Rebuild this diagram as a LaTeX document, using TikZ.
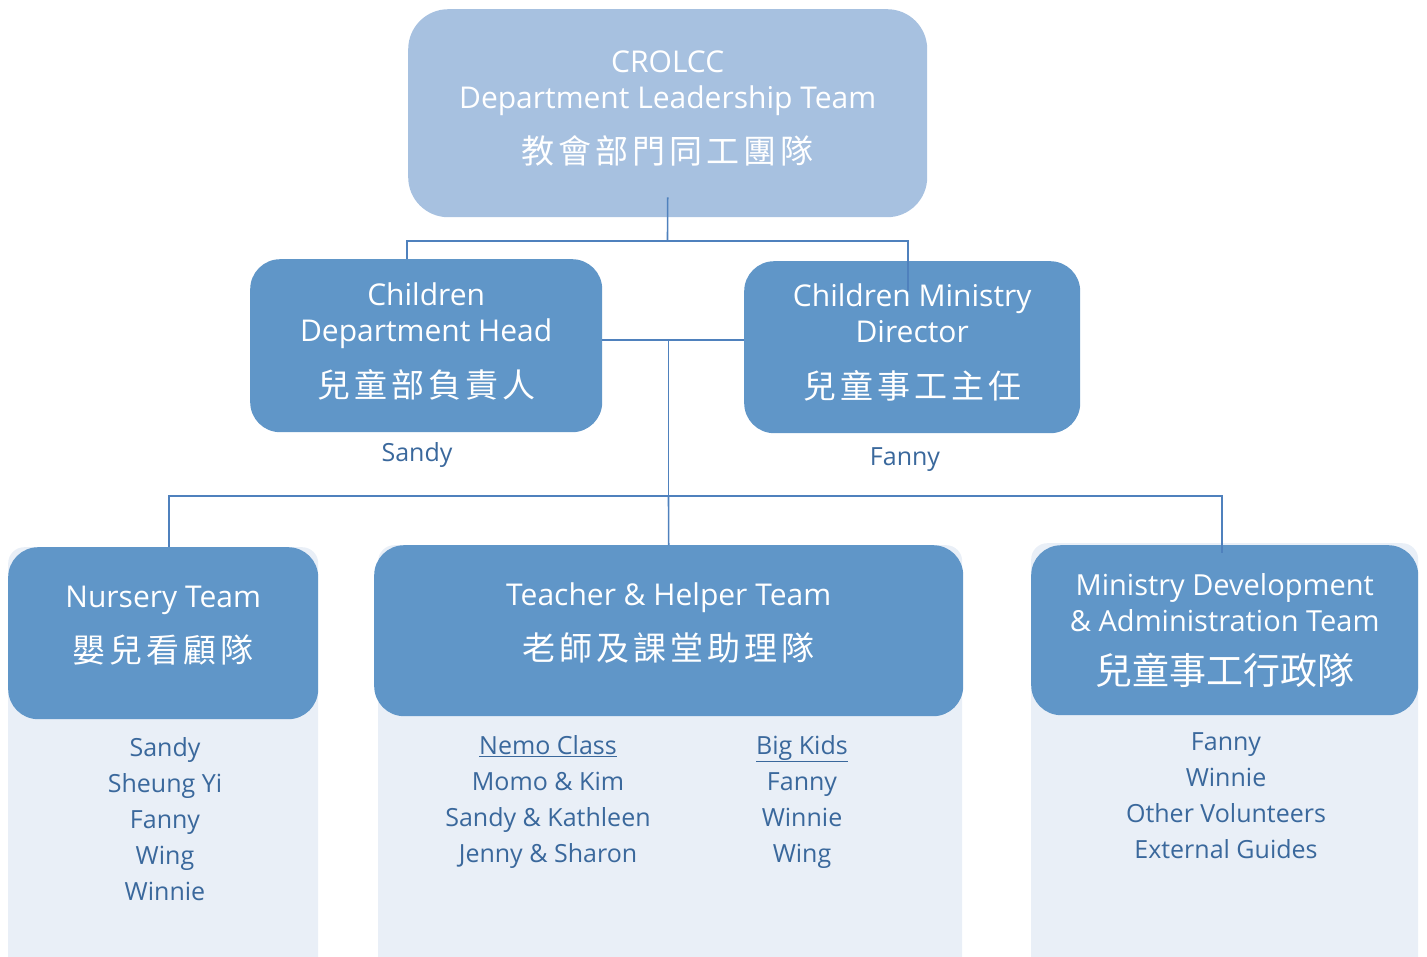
\documentclass[tikz,border=0pt]{standalone}
\usepackage{fontspec}
\setmainfont{Open Sans}
\newfontfamily\cjk{Noto Sans CJK TC}
\newfontfamily\cjkwide[LetterSpace=12]{Noto Sans CJK TC}
\usetikzlibrary{positioning}

\definecolor{leadblue}{HTML}{A7C1E0}
\definecolor{teamblue}{HTML}{6096C8}
\definecolor{panelblue}{HTML}{E9EFF7}
\definecolor{linkblue}{HTML}{4F81BD}
\definecolor{nameblue}{HTML}{3A689C}

% Chinese line of a box, with extra depth to lift the block
\newcommand{\zhline}[2]{{\cjkwide\fontsize{33}{40}\selectfont #2\rule[-#1]{0pt}{1pt}}}

\begin{document}
\begin{tikzpicture}[x=1pt, y=-1pt,
  leadbox/.style={rectangle, rounded corners=40pt, fill=leadblue, text=white, align=center, minimum width=519pt, minimum height=208pt, anchor=north west, font=\fontsize{30}{36}\selectfont},
  headbox/.style={rectangle, rounded corners=30pt, fill=teamblue, text=white, align=center, anchor=north west, inner sep=0pt, font=\fontsize{30}{36}\selectfont},
  panel/.style={rectangle, rounded corners=16pt, fill=panelblue, anchor=north west, inner sep=0pt},
  names/.style={text=nameblue, align=center, inner sep=0pt, font=\fontsize{25}{36}\selectfont},
  link/.style={draw=linkblue, line width=1.6pt}
]
\useasboundingbox (0,0) rectangle (1427,956);
\clip (0,0) rectangle (1427,956);

% Leadership team
\node[leadbox] (lead) at (408,9) {CROLCC\\Department Leadership Team\\[19pt]\zhline{12pt}{教會部門同工團隊}};

% Second level
\node[headbox, minimum width=352pt, minimum height=173pt] (depthead) at (250,259) {Children\\Department Head\\[20pt]\zhline{12pt}{兒童部負責人}};
\node[headbox, minimum width=336pt, minimum height=172pt] (director) at (744,261) {Children Ministry\\Director\\[20pt]\zhline{12pt}{兒童事工主任}};
\node[names, anchor=center] (headname) at (417,455) {Sandy};
\node[names, anchor=center] (dirname) at (905,460) {Fanny};

% Team panels
\node[panel, minimum width=310pt, minimum height=440pt] (nurserypanel) at (8,547) {};
\node[panel, minimum width=584pt, minimum height=440pt] (teachpanel) at (378,545) {};
\node[panel, minimum width=387pt, minimum height=440pt] (adminpanel) at (1031,543) {};

% Team headers
\node[headbox, minimum width=310pt, minimum height=172pt] (nursery) at (8,547) {Nursery Team\\[19pt]\zhline{17pt}{嬰兒看顧隊}};
\node[headbox, minimum width=589pt, minimum height=171pt] (teach) at (374,545) {Teacher \& Helper Team\\[19pt]\zhline{19pt}{老師及課堂助理隊}};
\node[headbox, minimum width=387pt, minimum height=170pt, font=\fontsize{29}{36}\selectfont] (admin) at (1031,545) {Ministry Development\\\& Administration Team\\[17pt]{\cjk\fontsize{37}{44}\selectfont 兒童事工行政隊}};

% Members
\node[names, anchor=north] (nurserynames) at (165,737) {Sandy\\Sheung Yi\\Fanny\\Wing\\Winnie};
\node[names, anchor=north] (nemo) at (548,735) {\underline{Nemo Class}\\Momo \& Kim\\Sandy \& Kathleen\\Jenny \& Sharon};
\node[names, anchor=north] (bigkids) at (802,735) {\underline{Big Kids}\\Fanny\\Winnie\\Wing};
\node[names, anchor=north] (adminnames) at (1226,732) {Fanny\\Winnie\\Other Volunteers\\External Guides};

% Connectors
\coordinate (split1) at (667.5,241);
\coordinate (split2) at (668.5,496);
\coordinate (split3) at (668.5,340);
\draw[link] ([yshift=20pt]lead.south) -- (split1);
\draw[link] (split1) -| ([xshift=-19pt]depthead.north);
\draw[link] (split1) -| ([yshift=-30pt, xshift=-4pt]director.north);
\draw[link] (depthead.east |- split3) -- (director.west |- split3);
\draw[link] (split3) -- (split2);
\draw[link] (split2) -- (teach.north);
\draw[link] (split2) -| ([xshift=6pt]nursery.north);
\draw[link] (split2) -| ([yshift=-8pt, xshift=-3pt]admin.north);
\end{tikzpicture}
\end{document}
